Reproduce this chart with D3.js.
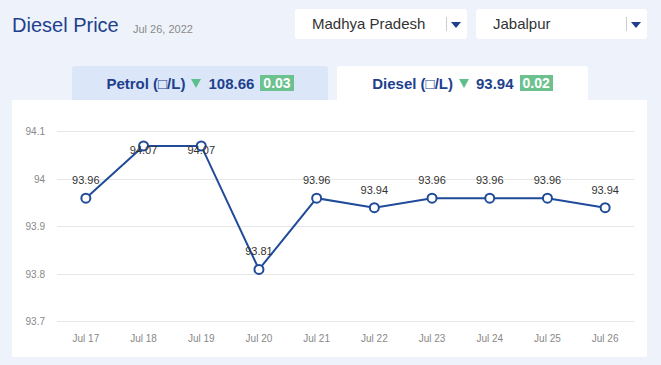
<!DOCTYPE html>
<html><head><meta charset="utf-8">
<script src="https://cdn.jsdelivr.net/npm/d3@7"></script>
<style>
html,body{margin:0;padding:0;}
body{width:661px;height:365px;background:#eef2fb;font-family:"Liberation Sans",Arial,sans-serif;position:relative;overflow:hidden;}
.title{position:absolute;left:12px;top:14px;font-size:20px;color:#213f8d;}
.date{position:absolute;left:133px;top:23px;font-size:11px;color:#8a8a8a;}
.dd{position:absolute;top:9px;height:30px;background:#fff;border-radius:3px;}
.dd .t{position:absolute;top:6px;font-size:15px;color:#333;}
.dd .sep{position:absolute;top:8px;width:1px;height:14px;background:#ccc;}
.dd .arr{position:absolute;top:13px;width:0;height:0;border-left:5px solid transparent;border-right:5px solid transparent;border-top:6px solid #213f8d;}
.tab{position:absolute;top:66px;height:34px;border-radius:3px 3px 0 0;display:flex;align-items:center;justify-content:center;font-weight:bold;font-size:15px;color:#213f8d;}
.tri{display:inline-block;width:0;height:0;border-left:5px solid transparent;border-right:5px solid transparent;border-top:9px solid #5fbf8c;margin:0 7px 0 6px;}
.badge{display:inline-block;background:#6cc28f;color:#fff;font-size:14px;padding:1px 3px;margin-left:6px;line-height:14px;}
.panel{position:absolute;left:12px;top:100px;width:635px;height:257px;background:#fff;}
svg{position:absolute;left:0;top:0;}
</style></head>
<body>
<div class="title">Diesel Price</div>
<div class="date">Jul 26, 2022</div>
<div class="dd" style="left:295px;width:172px;"><span class="t" style="left:17px;">Madhya Pradesh</span><span class="sep" style="left:151px;"></span><span class="arr" style="left:156px;"></span></div>
<div class="dd" style="left:476px;width:171px;"><span class="t" style="left:17px;">Jabalpur</span><span class="sep" style="left:150px;"></span><span class="arr" style="left:155px;"></span></div>
<div class="tab" style="left:72px;width:256px;background:#dce6f9;"><span>Petrol (□/L)</span><span class="tri"></span><span>108.66</span><span class="badge">0.03</span></div>
<div class="tab" style="left:337px;width:251px;background:#fff;"><span>Diesel (□/L)</span><span class="tri"></span><span>93.94</span><span class="badge">0.02</span></div>
<div class="panel"></div>
<svg id="c" width="661" height="365"></svg>
<script>
const categories = ["Jul 17","Jul 18","Jul 19","Jul 20","Jul 21","Jul 22","Jul 23","Jul 24","Jul 25","Jul 26"];
const dieselValues = [93.96,94.07,94.07,93.81,93.96,93.94,93.96,93.96,93.96,93.94];
const yTicks = [93.7,93.8,93.9,94,94.1];

const svg = d3.select("#c");
const x = d3.scaleBand().domain(categories).range([57,634]);
const y = d3.scaleLinear().domain([93.7,94.1]).range([321.7,131.7]);
const font = '"Liberation Sans",Arial,sans-serif';

svg.append("g").selectAll("line").data(yTicks).join("line")
  .attr("x1",57).attr("x2",634).attr("y1",d=>y(d)).attr("y2",d=>y(d))
  .attr("stroke","#e6e6e6").attr("stroke-width",1).attr("shape-rendering","crispEdges");

const yAxis = svg.append("g").attr("transform","translate(57,0)")
  .call(d3.axisLeft(y).tickValues(yTicks).tickSize(0).tickPadding(12).tickFormat(d=>String(+d.toFixed(1))));
yAxis.select(".domain").remove();
yAxis.selectAll("text").attr("fill","#888").attr("font-size",10).attr("font-family",font);

const xAxis = svg.append("g").attr("transform","translate(0,322)")
  .call(d3.axisBottom(x).tickSize(0).tickPadding(13));
xAxis.select(".domain").remove();
xAxis.selectAll("text").attr("fill","#888").attr("font-size",10).attr("font-family",font);

const cx = d => x(d) + x.bandwidth()/2;
const pts = categories.map((c,i)=>({c, v: dieselValues[i]}));

svg.append("path").datum(pts)
  .attr("fill","none").attr("stroke","#1f4b99").attr("stroke-width",2)
  .attr("d", d3.line().x(d=>cx(d.c)).y(d=>y(d.v)));

svg.append("g").selectAll("circle").data(pts).join("circle")
  .attr("cx",d=>cx(d.c)).attr("cy",d=>y(d.v)).attr("r",4.5)
  .attr("fill","#fff").attr("stroke","#1f4b99").attr("stroke-width",2);

svg.append("g").selectAll("text").data(pts).join("text")
  .attr("x",d=>cx(d.c))
  .attr("y",d=> (y(d.v)-24 < y(94.1)) ? y(d.v)+8 : y(d.v)-14)
  .attr("text-anchor","middle").attr("font-size",11).attr("font-family",font).attr("fill","#333")
  .text(d=>d.v.toFixed(2));
</script>
</body></html>
